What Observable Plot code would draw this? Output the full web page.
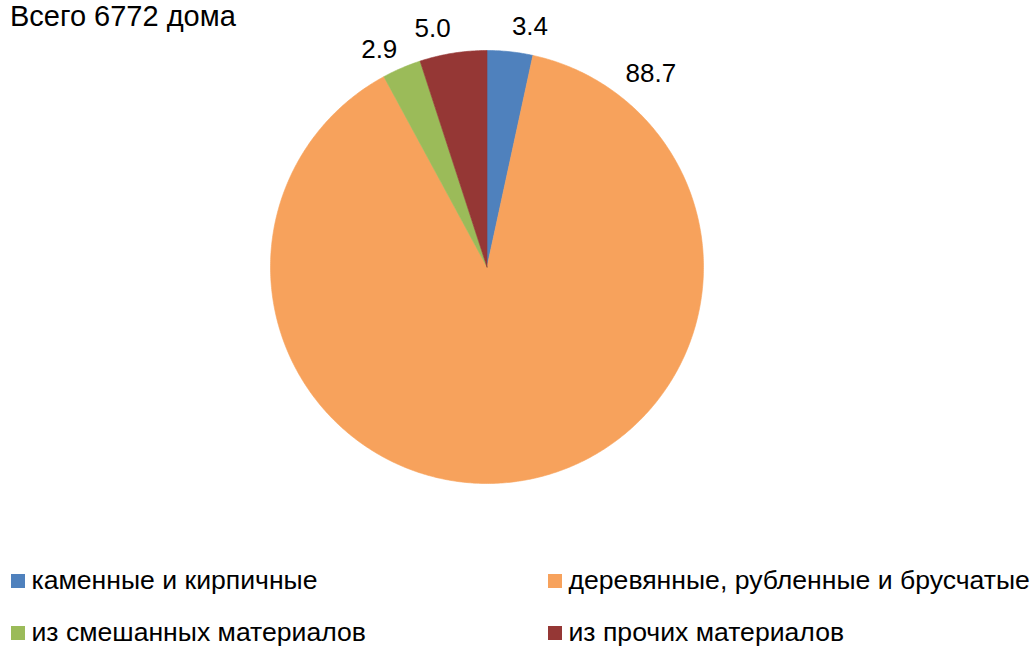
<!DOCTYPE html>
<html>
<head>
<meta charset="utf-8">
<script src="https://cdn.jsdelivr.net/npm/d3@7"></script>
<script src="https://cdn.jsdelivr.net/npm/@observablehq/plot@0.6"></script>
<style>
  body { margin: 0; background: #fff; font-family: "Liberation Sans", Arial, sans-serif; }
  #wrap { position: relative; width: 1036px; height: 646px; overflow: hidden; }
  #title { position: absolute; left: 10px; top: 0px; font-size: 29px; line-height: normal; color: #000; white-space: nowrap; }
  #chart { position: absolute; left: 0; top: 0; }
  .lg-item { position: absolute; font-size: 26.6px; line-height: 1; color: #000; white-space: nowrap; }
  .lg-sw { position: absolute; width: 14px; height: 14px; }
</style>
</head>
<body>
<div id="wrap">
  <div id="chart"></div>
  <div id="title"></div>
  <div id="legend"></div>
</div>
<script>
// ---- data ----
const titleText = "Всего 6772 дома";
const categories = [
  "каменные и кирпичные",
  "деревянные, рубленные и брусчатые",
  "из смешанных материалов",
  "из прочих материалов"
];
const values = [3.4, 88.7, 2.9, 5.0];
const valueLabels = ["3.4", "88.7", "2.9", "5.0"];
const colors = ["#4F81BD", "#F7A25C", "#9BBB59", "#953735"];

// ---- layout ----
const W = 1036, H = 560;
const cx = 486.5, cy = 266.5, R = 216.5;

document.getElementById("title").textContent = titleText;

const rows = categories.map((c, i) => ({cat: c, value: values[i], label: valueLabels[i]}));
const arcs = d3.pie().sort(null).value(d => d.value)(rows);

// polygon points per slice (unit radius, y up)
const slicePts = [];
arcs.forEach(a => {
  const n = Math.max(4, Math.ceil((a.endAngle - a.startAngle) / 0.01));
  slicePts.push({cat: a.data.cat, x: 0, y: 0});
  for (let k = 0; k <= n; k++) {
    const t = a.startAngle + (a.endAngle - a.startAngle) * k / n;
    slicePts.push({cat: a.data.cat, x: Math.sin(t), y: Math.cos(t)});
  }
  slicePts.push({cat: a.data.cat, x: 0, y: 0});
});

// labels outside the pie; the dominant slice gets its label near its start
const labelPts = arcs.map(a => {
  let ang = (a.startAngle + a.endAngle) / 2;
  let r = 1.09 - 0.1 * Math.abs(Math.sin(ang));
  if (a.endAngle - a.startAngle > Math.PI) { ang = a.startAngle + 0.43; r = 1.066; }
  return {text: a.data.label, x: r * Math.sin(ang), y: r * Math.cos(ang), right: Math.sin(ang) >= 0};
});

const chart = Plot.plot({
  width: W,
  height: H,
  margin: 0,
  x: {domain: [-cx / R, (W - cx) / R], axis: null},
  y: {domain: [-(H - cy) / R, cy / R], axis: null},
  color: {domain: categories, range: colors},
  style: {fontFamily: "'Liberation Sans', Arial, sans-serif", background: "#fff"},
  marks: [
    Plot.line(slicePts, {x: "x", y: "y", z: "cat", fill: "cat", stroke: "cat", strokeWidth: 0.6, curve: "linear"}),
    Plot.text(labelPts.filter(d => d.right), {x: "x", y: "y", text: "text", textAnchor: "start", lineAnchor: "bottom", fontSize: 26, fill: "#000"}),
    Plot.text(labelPts.filter(d => !d.right), {x: "x", y: "y", text: "text", textAnchor: "end", lineAnchor: "bottom", fontSize: 26, fill: "#000"})
  ]
});
document.getElementById("chart").appendChild(chart);

// ---- legend (two columns, two rows) ----
const legend = document.getElementById("legend");
categories.forEach((c, i) => {
  const col = i % 2, row = Math.floor(i / 2);
  const sx = col === 0 ? 11 : 548;
  const top = 566.5 + row * 52;
  const sw = document.createElement("div");
  sw.className = "lg-sw";
  sw.style.left = sx + "px";
  sw.style.top = (top + 7.5) + "px";
  sw.style.background = colors[i];
  legend.appendChild(sw);
  const tx = document.createElement("div");
  tx.className = "lg-item";
  tx.style.left = (sx + 20.5) + "px";
  tx.style.top = top + "px";
  tx.textContent = c;
  legend.appendChild(tx);
});
</script>
</body>
</html>
